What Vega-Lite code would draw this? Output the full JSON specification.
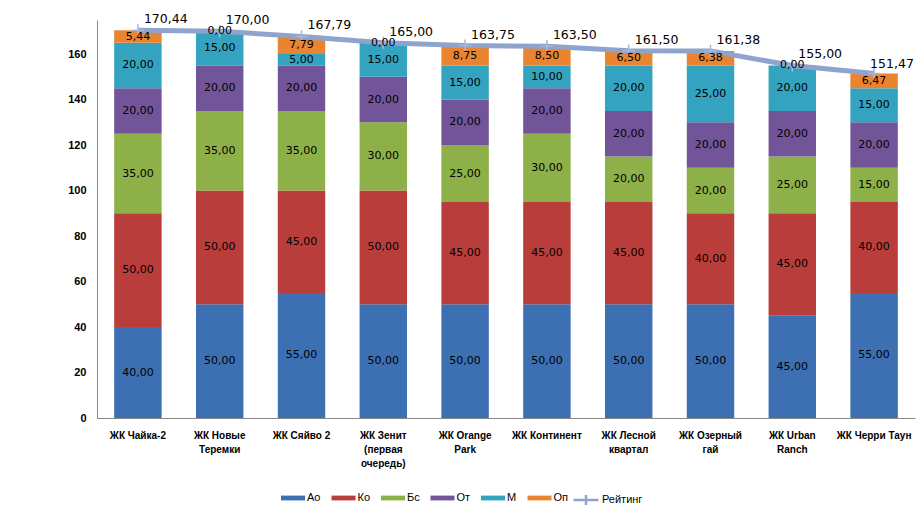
{
  "$schema": "https://vega.github.io/schema/vega-lite/v6.json",
  "autosize": {"type": "none"},
  "width": 818,
  "height": 398,
  "padding": {"left": 97, "top": 20, "right": 5, "bottom": 103},
  "background": "white",
  "config": {
    "view": {"stroke": null},
    "locale": {"number": {"decimal": ",", "thousands": " ", "grouping": [3], "currency": ["", ""]}}
  },
  "datasets": {
    "segs": [
      {"c": "ЖК Чайка-2", "s": "Ао", "k": 1, "v": 40},
      {"c": "ЖК Чайка-2", "s": "Ко", "k": 2, "v": 50},
      {"c": "ЖК Чайка-2", "s": "Бс", "k": 3, "v": 35},
      {"c": "ЖК Чайка-2", "s": "От", "k": 4, "v": 20},
      {"c": "ЖК Чайка-2", "s": "М", "k": 5, "v": 20},
      {"c": "ЖК Чайка-2", "s": "Оп", "k": 6, "v": 5.44},
      {"c": "ЖК Новые|Теремки", "s": "Ао", "k": 1, "v": 50},
      {"c": "ЖК Новые|Теремки", "s": "Ко", "k": 2, "v": 50},
      {"c": "ЖК Новые|Теремки", "s": "Бс", "k": 3, "v": 35},
      {"c": "ЖК Новые|Теремки", "s": "От", "k": 4, "v": 20},
      {"c": "ЖК Новые|Теремки", "s": "М", "k": 5, "v": 15},
      {"c": "ЖК Новые|Теремки", "s": "Оп", "k": 6, "v": 0},
      {"c": "ЖК Сяйво 2", "s": "Ао", "k": 1, "v": 55},
      {"c": "ЖК Сяйво 2", "s": "Ко", "k": 2, "v": 45},
      {"c": "ЖК Сяйво 2", "s": "Бс", "k": 3, "v": 35},
      {"c": "ЖК Сяйво 2", "s": "От", "k": 4, "v": 20},
      {"c": "ЖК Сяйво 2", "s": "М", "k": 5, "v": 5},
      {"c": "ЖК Сяйво 2", "s": "Оп", "k": 6, "v": 7.79},
      {"c": "ЖК Зенит|(первая|очередь)", "s": "Ао", "k": 1, "v": 50},
      {"c": "ЖК Зенит|(первая|очередь)", "s": "Ко", "k": 2, "v": 50},
      {"c": "ЖК Зенит|(первая|очередь)", "s": "Бс", "k": 3, "v": 30},
      {"c": "ЖК Зенит|(первая|очередь)", "s": "От", "k": 4, "v": 20},
      {"c": "ЖК Зенит|(первая|очередь)", "s": "М", "k": 5, "v": 15},
      {"c": "ЖК Зенит|(первая|очередь)", "s": "Оп", "k": 6, "v": 0},
      {"c": "ЖК Orange|Park", "s": "Ао", "k": 1, "v": 50},
      {"c": "ЖК Orange|Park", "s": "Ко", "k": 2, "v": 45},
      {"c": "ЖК Orange|Park", "s": "Бс", "k": 3, "v": 25},
      {"c": "ЖК Orange|Park", "s": "От", "k": 4, "v": 20},
      {"c": "ЖК Orange|Park", "s": "М", "k": 5, "v": 15},
      {"c": "ЖК Orange|Park", "s": "Оп", "k": 6, "v": 8.75},
      {"c": "ЖК Континент", "s": "Ао", "k": 1, "v": 50},
      {"c": "ЖК Континент", "s": "Ко", "k": 2, "v": 45},
      {"c": "ЖК Континент", "s": "Бс", "k": 3, "v": 30},
      {"c": "ЖК Континент", "s": "От", "k": 4, "v": 20},
      {"c": "ЖК Континент", "s": "М", "k": 5, "v": 10},
      {"c": "ЖК Континент", "s": "Оп", "k": 6, "v": 8.5},
      {"c": "ЖК Лесной|квартал", "s": "Ао", "k": 1, "v": 50},
      {"c": "ЖК Лесной|квартал", "s": "Ко", "k": 2, "v": 45},
      {"c": "ЖК Лесной|квартал", "s": "Бс", "k": 3, "v": 20},
      {"c": "ЖК Лесной|квартал", "s": "От", "k": 4, "v": 20},
      {"c": "ЖК Лесной|квартал", "s": "М", "k": 5, "v": 20},
      {"c": "ЖК Лесной|квартал", "s": "Оп", "k": 6, "v": 6.5},
      {"c": "ЖК Озерный|гай", "s": "Ао", "k": 1, "v": 50},
      {"c": "ЖК Озерный|гай", "s": "Ко", "k": 2, "v": 40},
      {"c": "ЖК Озерный|гай", "s": "Бс", "k": 3, "v": 20},
      {"c": "ЖК Озерный|гай", "s": "От", "k": 4, "v": 20},
      {"c": "ЖК Озерный|гай", "s": "М", "k": 5, "v": 25},
      {"c": "ЖК Озерный|гай", "s": "Оп", "k": 6, "v": 6.38},
      {"c": "ЖК Urban|Ranch", "s": "Ао", "k": 1, "v": 45},
      {"c": "ЖК Urban|Ranch", "s": "Ко", "k": 2, "v": 45},
      {"c": "ЖК Urban|Ranch", "s": "Бс", "k": 3, "v": 25},
      {"c": "ЖК Urban|Ranch", "s": "От", "k": 4, "v": 20},
      {"c": "ЖК Urban|Ranch", "s": "М", "k": 5, "v": 20},
      {"c": "ЖК Urban|Ranch", "s": "Оп", "k": 6, "v": 0},
      {"c": "ЖК Черри Таун", "s": "Ао", "k": 1, "v": 55},
      {"c": "ЖК Черри Таун", "s": "Ко", "k": 2, "v": 40},
      {"c": "ЖК Черри Таун", "s": "Бс", "k": 3, "v": 15},
      {"c": "ЖК Черри Таун", "s": "От", "k": 4, "v": 20},
      {"c": "ЖК Черри Таун", "s": "М", "k": 5, "v": 15},
      {"c": "ЖК Черри Таун", "s": "Оп", "k": 6, "v": 6.47}
    ],
    "rating": [
      {"c": "ЖК Чайка-2", "r": 170.44},
      {"c": "ЖК Новые|Теремки", "r": 170.00},
      {"c": "ЖК Сяйво 2", "r": 167.79},
      {"c": "ЖК Зенит|(первая|очередь)", "r": 165.00},
      {"c": "ЖК Orange|Park", "r": 163.75},
      {"c": "ЖК Континент", "r": 163.50},
      {"c": "ЖК Лесной|квартал", "r": 161.50},
      {"c": "ЖК Озерный|гай", "r": 161.38},
      {"c": "ЖК Urban|Ranch", "r": 155.00},
      {"c": "ЖК Черри Таун", "r": 151.47}
    ]
  },
  "encoding": {
    "x": {
      "field": "c", "type": "nominal", "sort": null, "title": null,
      "scale": {"paddingInner": 0.42, "paddingOuter": 0.21},
      "axis": {
        "labelAngle": 0, "ticks": false, "domainColor": "#888888",
        "labelExpr": "split(datum.label, '|')",
        "labelFont": "Liberation Sans", "labelFontWeight": "bold", "labelFontSize": 10,
        "labelColor": "#000000", "labelPadding": 12, "labelLineHeight": 14, "labelBaseline": "top"
      }
    }
  },
  "layer": [
    {
      "data": {"name": "segs"},
      "mark": {"type": "bar"},
      "encoding": {
        "y": {
          "field": "v", "type": "quantitative", "stack": "zero", "title": null,
          "scale": {"domain": [0, 175], "nice": false},
          "axis": {
            "values": [0, 20, 40, 60, 80, 100, 120, 140, 160], "grid": false, "ticks": false,
            "domainColor": "#888888", "labelFont": "Liberation Sans", "labelFontWeight": "bold",
            "labelFontSize": 11, "labelColor": "#000000", "labelPadding": 11, "format": "d"
          }
        },
        "color": {
          "field": "s", "type": "nominal",
          "scale": {
            "domain": ["Ао", "Ко", "Бс", "От", "М", "Оп"],
            "range": ["#3D70B2", "#B93E3B", "#8DB048", "#725599", "#34A3C0", "#EA8430"]
          },
          "legend": {
            "title": null, "orient": "none", "direction": "horizontal",
            "legendX": 184, "legendY": 466,
            "symbolType": "M-1,-0.2H1V0.2H-1Z", "symbolSize": 576, "symbolStrokeWidth": 0,
            "labelFont": "Liberation Sans", "labelFontSize": 11, "labelColor": "#000000",
            "labelOffset": 2, "columnPadding": 10.5
          }
        },
        "order": {"field": "k", "type": "quantitative"}
      }
    },
    {
      "data": {"name": "rating"},
      "mark": {"type": "line", "strokeWidth": 5, "strokeCap": "butt"},
      "encoding": {
        "y": {"field": "r", "type": "quantitative"},
        "stroke": {
          "datum": "Рейтинг",
          "scale": {"domain": ["Рейтинг"], "range": ["#8FA4CC"]},
          "legend": {
            "title": null, "orient": "none", "legendX": 475, "legendY": 466,
            "symbolType": "M-1,0H1M0,-0.4V0.4", "symbolSize": 625, "symbolStrokeWidth": 2.5,
            "labelFont": "Liberation Sans", "labelFontSize": 11, "labelColor": "#000000", "labelOffset": 2
          }
        }
      }
    },
    {
      "data": {"name": "rating"},
      "mark": {"type": "point", "shape": "M-1,0H1M0,-1V1", "size": 150, "filled": false, "stroke": "#A8B8D8", "strokeWidth": 1.5, "opacity": 1},
      "encoding": {
        "y": {"field": "r", "type": "quantitative"}
      }
    },
    {
      "data": {"name": "segs"},
      "mark": {"type": "text", "font": "DejaVu Sans", "fontSize": 11, "color": "#000000", "baseline": "middle"},
      "encoding": {
        "y": {"field": "v", "type": "quantitative", "stack": "zero", "bandPosition": 0.5},
        "text": {"field": "v", "type": "quantitative", "format": ".2f"},
        "order": {"field": "k", "type": "quantitative"}
      }
    },
    {
      "data": {"name": "rating"},
      "transform": [{"filter": "datum.c != 'ЖК Черри Таун'"}],
      "mark": {"type": "text", "font": "DejaVu Sans", "fontSize": 12.5, "color": "#000000", "align": "left", "baseline": "middle", "dx": 6, "dy": -11},
      "encoding": {
        "y": {"field": "r", "type": "quantitative"},
        "text": {"field": "r", "type": "quantitative", "format": ".2f"}
      }
    },
    {
      "data": {"name": "rating"},
      "transform": [{"filter": "datum.c == 'ЖК Черри Таун'"}],
      "mark": {"type": "text", "font": "DejaVu Sans", "fontSize": 12.5, "color": "#000000", "align": "left", "baseline": "middle", "dx": -4, "dy": -10},
      "encoding": {
        "y": {"field": "r", "type": "quantitative"},
        "text": {"field": "r", "type": "quantitative", "format": ".2f"}
      }
    }
  ]
}
